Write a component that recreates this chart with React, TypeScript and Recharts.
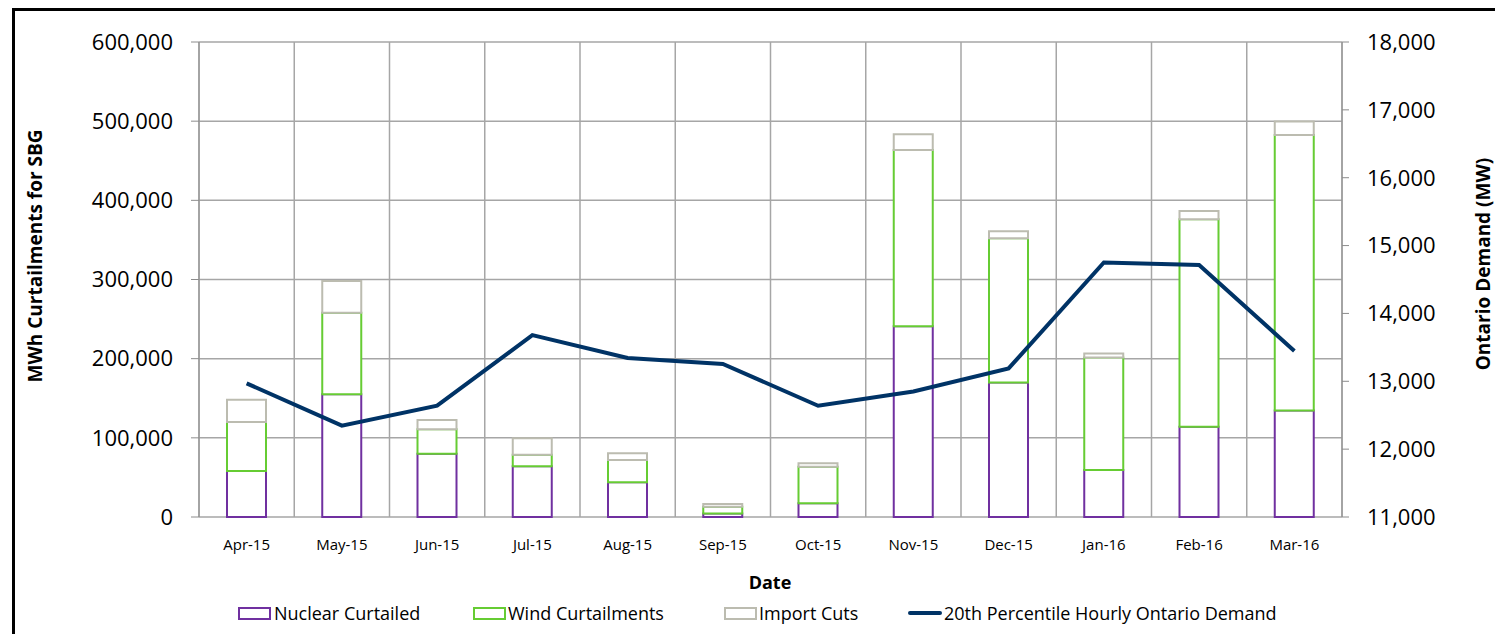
import React from 'react';
import { ComposedChart, Bar, Line, XAxis, YAxis, CartesianGrid } from 'recharts';

// monthly values
const months = ['Apr-15', 'May-15', 'Jun-15', 'Jul-15', 'Aug-15', 'Sep-15', 'Oct-15', 'Nov-15', 'Dec-15', 'Jan-16', 'Feb-16', 'Mar-16'];
const nuclearCurtailed = [58000, 155000, 80000, 64000, 44000, 4500, 17500, 241000, 170000, 59500, 114000, 134500];
const windCurtailments = [62000, 103000, 31000, 14500, 28000, 8500, 46000, 222500, 182000, 142000, 262000, 348000];
const importCuts = [28000, 40000, 11500, 21000, 8500, 3500, 4500, 20000, 9000, 5000, 10500, 17000];
const demand20th = [12970, 12346, 12640, 13680, 13343, 13255, 12640, 12850, 13190, 14750, 14714, 13446];

const leftTicks = [0, 100000, 200000, 300000, 400000, 500000, 600000];
const rightTicks = [11000, 12000, 13000, 14000, 15000, 16000, 17000, 18000];
const boundaryTicks = [0, 1, 2, 3, 4, 5, 6, 7, 8, 9, 10, 11, 12];

const data = months.map((m, i) => ({
  month: m,
  pos: i + 0.5,
  nuclear: nuclearCurtailed[i],
  wind: windCurtailments[i],
  imports: importCuts[i],
  demand: demand20th[i],
}));

const FONT = '"Open Sans", sans-serif';
const GRID = '#a6a6a6';
const AXIS = '#8c8c8c';

const legendItems = [
  { label: 'Nuclear Curtailed', color: '#7030a0', iconX: 238, textX: 274, kind: 'box' },
  { label: 'Wind Curtailments', color: '#66cc33', iconX: 473, textX: 508, kind: 'box' },
  { label: 'Import Cuts', color: '#bcbcb0', iconX: 724, textX: 759, kind: 'box' },
  { label: '20th Percentile Hourly Ontario Demand', color: '#003366', iconX: 908, textX: 944, kind: 'line' },
];

const fmt = (v: number) => v.toLocaleString('en-US');

export default function App() {
  return (
    <div style={{ position: 'fixed', left: 0, top: 0, width: 1495, height: 634, overflow: 'hidden', background: '#fff', fontFamily: FONT }}>
      <div style={{ position: 'absolute', left: 12, top: 8, width: 1600, height: 800, borderLeft: '3px solid #000', borderTop: '3px solid #000' }} />
      <div style={{ position: 'absolute', left: 0, top: 0 }}>
        <ComposedChart width={1495} height={634} data={data} margin={{ top: 42, right: 0, left: 0, bottom: 77 }}>
          <XAxis xAxisId="b" dataKey="pos" type="number" domain={[0, 12]} ticks={boundaryTicks} height={0}
            tickSize={7} tickFormatter={() => ''} axisLine={false} tickLine={{ stroke: AXIS }} />
          <XAxis xAxisId="a" dataKey="month" height={40} tickLine={false} axisLine={false} tickSize={6} tickMargin={16}
            interval={0} tick={{ fill: '#000', fontSize: 15, fontFamily: FONT }} />
          <YAxis yAxisId="left" domain={[0, 600000]} ticks={leftTicks} width={199} tickSize={8} tickMargin={18}
            tickFormatter={fmt} axisLine={{ stroke: AXIS }} tickLine={{ stroke: AXIS }}
            tick={{ fill: '#000', fontSize: 22, fontFamily: FONT }} />
          <YAxis yAxisId="right" orientation="right" domain={[11000, 18000]} ticks={rightTicks} width={153} tickSize={7} tickMargin={18}
            tickFormatter={fmt} axisLine={{ stroke: AXIS }} tickLine={{ stroke: AXIS }}
            tick={{ fill: '#000', fontSize: 22, fontFamily: FONT }} />
          <CartesianGrid xAxisId="b" yAxisId="left" stroke={GRID} strokeWidth={1.5} />
          <Bar xAxisId="a" yAxisId="left" dataKey="nuclear" stackId="s" barSize={39} fill="#fff" stroke="#7030a0" strokeWidth={2} isAnimationActive={false} />
          <Bar xAxisId="a" yAxisId="left" dataKey="wind" stackId="s" barSize={39} fill="#fff" stroke="#66cc33" strokeWidth={2} isAnimationActive={false} />
          <Bar xAxisId="a" yAxisId="left" dataKey="imports" stackId="s" barSize={39} fill="#fff" stroke="#bcbcb0" strokeWidth={2} isAnimationActive={false} />
          <Line xAxisId="a" yAxisId="right" type="linear" dataKey="demand" stroke="#003366" strokeWidth={4} dot={false} isAnimationActive={false} />
        </ComposedChart>
      </div>

      <div style={{ position: 'absolute', left: 35, top: 256, transform: 'translate(-50%, -50%) rotate(-90deg)', whiteSpace: 'nowrap', fontSize: 19, fontWeight: 700, color: '#000' }}>
        MWh Curtailments for SBG
      </div>
      <div style={{ position: 'absolute', left: 1483, top: 264, transform: 'translate(-50%, -50%) rotate(-90deg)', whiteSpace: 'nowrap', fontSize: 19, fontWeight: 700, color: '#000' }}>
        Ontario Demand (MW)
      </div>
      <div style={{ position: 'absolute', left: 770, top: 582, transform: 'translate(-50%, -50%)', whiteSpace: 'nowrap', fontSize: 18, fontWeight: 700, color: '#000' }}>
        Date
      </div>

      {legendItems.map((it) => (
        <React.Fragment key={it.label}>
          {it.kind === 'box' ? (
            <div style={{ position: 'absolute', left: it.iconX, top: 607, width: 29, height: 9, border: `2px solid ${it.color}`, background: '#fff' }} />
          ) : (
            <div style={{ position: 'absolute', left: it.iconX, top: 611, width: 34, height: 4, borderRadius: 2, background: it.color }} />
          )}
          <div style={{ position: 'absolute', left: it.textX, top: 601, lineHeight: '24px', fontSize: 18, color: '#000', whiteSpace: 'nowrap' }}>
            {it.label}
          </div>
        </React.Fragment>
      ))}
    </div>
  );
}
